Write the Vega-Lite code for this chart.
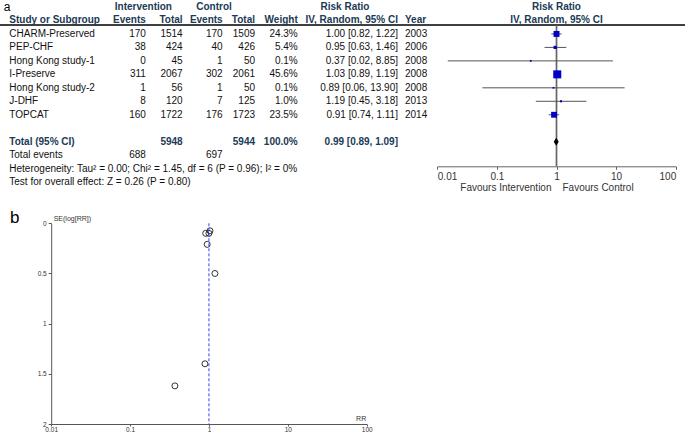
{
  "$schema": "https://vega.github.io/schema/vega-lite/v6.json",
  "width": 685,
  "height": 433,
  "padding": 0,
  "autosize": {"type": "none"},
  "background": "white",
  "config": {
    "view": {"stroke": null},
    "text": {"font": "Liberation Sans", "fontSize": 10, "baseline": "middle", "color": "#111111"},
    "axis": {"labelFont": "Liberation Sans"}
  },
  "datasets": {
    "table": [
      {"r": 0, "kind": "head", "gi": "Intervention", "gc": "Control", "gr": "Risk Ratio", "fp": "Risk Ratio"},
      {"r": 1, "kind": "head", "study": "Study or Subgroup", "ie": "Events", "it": "Total", "ce": "Events", "ct": "Total", "weight": "Weight", "ci": "IV, Random, 95% CI", "year": "Year", "fp": "IV, Random, 95% CI"},
      {"r": 2, "kind": "study", "study": "CHARM-Preserved", "ie": "170", "it": "1514", "ce": "170", "ct": "1509", "weight": "24.3%", "w": 24.3, "ci": "1.00 [0.82, 1.22]", "year": "2003", "rr": 1.0, "lo": 0.82, "hi": 1.22, "se": 0.1},
      {"r": 3, "kind": "study", "study": "PEP-CHF", "ie": "38", "it": "424", "ce": "40", "ct": "426", "weight": "5.4%", "w": 5.4, "ci": "0.95 [0.63, 1.46]", "year": "2006", "rr": 0.95, "lo": 0.63, "hi": 1.46, "se": 0.21},
      {"r": 4, "kind": "study", "study": "Hong Kong study-1", "ie": "0", "it": "45", "ce": "1", "ct": "50", "weight": "0.1%", "w": 0.1, "ci": "0.37 [0.02, 8.85]", "year": "2008", "rr": 0.37, "lo": 0.015, "hi": 8.85, "se": 1.62},
      {"r": 5, "kind": "study", "study": "I-Preserve", "ie": "311", "it": "2067", "ce": "302", "ct": "2061", "weight": "45.6%", "w": 45.6, "ci": "1.03 [0.89, 1.19]", "year": "2008", "rr": 1.03, "lo": 0.89, "hi": 1.19, "se": 0.075},
      {"r": 6, "kind": "study", "study": "Hong Kong study-2", "ie": "1", "it": "56", "ce": "1", "ct": "50", "weight": "0.1%", "w": 0.1, "ci": "0.89 [0.06, 13.90]", "year": "2008", "rr": 0.89, "lo": 0.057, "hi": 13.9, "se": 1.4},
      {"r": 7, "kind": "study", "study": "J-DHF", "ie": "8", "it": "120", "ce": "7", "ct": "125", "weight": "1.0%", "w": 1.0, "ci": "1.19 [0.45, 3.18]", "year": "2013", "rr": 1.19, "lo": 0.45, "hi": 3.18, "se": 0.5},
      {"r": 8, "kind": "study", "study": "TOPCAT", "ie": "160", "it": "1722", "ce": "176", "ct": "1723", "weight": "23.5%", "w": 23.5, "ci": "0.91 [0.74, 1.11]", "year": "2014", "rr": 0.91, "lo": 0.74, "hi": 1.11, "se": 0.1},
      {"r": 10, "kind": "total", "study": "Total (95% CI)", "it": "5948", "ct": "5944", "weight": "100.0%", "ci": "0.99 [0.89, 1.09]", "rr": 0.99, "lo": 0.89, "hi": 1.09},
      {"r": 11, "kind": "events", "study": "Total events", "ie": "688", "ce": "697"},
      {"r": 12, "kind": "note", "study": "Heterogeneity: Tau² = 0.00; Chi² = 1.45, df = 6 (P = 0.96); I² = 0%"},
      {"r": 13, "kind": "note", "study": "Test for overall effect: Z = 0.26 (P = 0.80)"}
    ],
    "panels": [{"panel": "a"}, {"panel": "b"}],
    "refs": [{"ref": "line"}],
    "favours": [{"label": "Favours Intervention", "side": "left"}, {"label": "Favours Control", "side": "right"}],
    "funnelTitles": [{"axis": "y", "label": "SE(log[RR])"}, {"axis": "x", "label": "RR"}]
  },
  "layer": [
    {"data": {"name": "panels"}, "transform": [{"filter": "datum.panel=='a'"}], "mark": {"type": "text", "align": "left", "baseline": "alphabetic", "fontSize": 12, "dx": -5.5, "dy": 4, "color": "#000000"}, "encoding": {"x": {"datum": "study", "type": "nominal", "scale": {"type": "point", "domain": ["study", "ie", "it", "ce", "ct", "weight", "ci", "year"], "range": [9.3, 405], "padding": 0}, "axis": null}, "y": {"datum": 0, "type": "quantitative", "scale": {"domain": [0, 13], "range": [7, 182.1], "nice": false, "zero": false}, "axis": null}, "text": {"field": "panel", "type": "nominal"}}},
    {"data": {"name": "panels"}, "transform": [{"filter": "datum.panel=='b'"}], "mark": {"type": "text", "align": "left", "baseline": "alphabetic", "fontSize": 17, "dx": 0.7, "color": "#000000"}, "encoding": {"x": {"datum": "study", "type": "nominal", "scale": {"type": "point", "domain": ["study", "ie", "it", "ce", "ct", "weight", "ci", "year"], "range": [9.3, 405], "padding": 0}, "axis": null}, "y": {"datum": 16.06, "type": "quantitative", "scale": {"domain": [0, 13], "range": [7, 182.1], "nice": false, "zero": false}, "axis": null}, "text": {"field": "panel", "type": "nominal"}}},
    {"data": {"name": "refs"}, "mark": {"type": "rule", "color": "#000000", "strokeWidth": 1.5}, "encoding": {"y": {"datum": 1.34, "type": "quantitative", "scale": {"domain": [0, 13], "range": [7, 182.1], "nice": false, "zero": false}, "axis": null}}},

    {"data": {"name": "table"}, "transform": [{"filter": "isValid(datum.gi)"}], "mark": {"type": "text", "align": "center", "dx": 21, "fontWeight": "bold", "color": "#203a55"}, "encoding": {"x": {"datum": "it", "type": "nominal", "scale": {"type": "point", "domain": ["study", "ie", "it", "ce", "ct", "weight", "ci", "year"], "range": [9.3, 405], "padding": 0}, "axis": null}, "y": {"field": "r", "type": "quantitative", "scale": {"domain": [0, 13], "range": [7, 182.1], "nice": false, "zero": false}, "axis": null}, "text": {"field": "gi", "type": "nominal"}}},
    {"data": {"name": "table"}, "transform": [{"filter": "isValid(datum.gc)"}], "mark": {"type": "text", "align": "center", "dx": 35.1, "fontWeight": "bold", "color": "#203a55"}, "encoding": {"x": {"datum": "ce", "type": "nominal", "scale": {"type": "point", "domain": ["study", "ie", "it", "ce", "ct", "weight", "ci", "year"], "range": [9.3, 405], "padding": 0}, "axis": null}, "y": {"field": "r", "type": "quantitative", "scale": {"domain": [0, 13], "range": [7, 182.1], "nice": false, "zero": false}, "axis": null}, "text": {"field": "gc", "type": "nominal"}}},
    {"data": {"name": "table"}, "transform": [{"filter": "isValid(datum.gr)"}], "mark": {"type": "text", "align": "center", "dx": -3.5, "fontWeight": "bold", "color": "#203a55"}, "encoding": {"x": {"datum": "ci", "type": "nominal", "scale": {"type": "point", "domain": ["study", "ie", "it", "ce", "ct", "weight", "ci", "year"], "range": [9.3, 405], "padding": 0}, "axis": null}, "y": {"field": "r", "type": "quantitative", "scale": {"domain": [0, 13], "range": [7, 182.1], "nice": false, "zero": false}, "axis": null}, "text": {"field": "gr", "type": "nominal"}}},

    {"data": {"name": "table"}, "transform": [{"filter": "datum.kind!='head' && datum.kind!='total' && isValid(datum.study)"}], "mark": {"type": "text", "align": "left"}, "encoding": {"x": {"datum": "study", "type": "nominal", "scale": {"type": "point", "domain": ["study", "ie", "it", "ce", "ct", "weight", "ci", "year"], "range": [9.3, 405], "padding": 0}, "axis": null}, "y": {"field": "r", "type": "quantitative", "scale": {"domain": [0, 13], "range": [7, 182.1], "nice": false, "zero": false}, "axis": null}, "text": {"field": "study", "type": "nominal"}}},
    {"data": {"name": "table"}, "transform": [{"filter": "datum.kind!='head' && datum.kind!='total' && isValid(datum.ie)"}], "mark": {"type": "text", "align": "right", "dx": 80}, "encoding": {"x": {"datum": "ie", "type": "nominal", "scale": {"type": "point", "domain": ["study", "ie", "it", "ce", "ct", "weight", "ci", "year"], "range": [9.3, 405], "padding": 0}, "axis": null}, "y": {"field": "r", "type": "quantitative", "scale": {"domain": [0, 13], "range": [7, 182.1], "nice": false, "zero": false}, "axis": null}, "text": {"field": "ie", "type": "nominal"}}},
    {"data": {"name": "table"}, "transform": [{"filter": "datum.kind!='head' && datum.kind!='total' && isValid(datum.it)"}], "mark": {"type": "text", "align": "right", "dx": 60.3}, "encoding": {"x": {"datum": "it", "type": "nominal", "scale": {"type": "point", "domain": ["study", "ie", "it", "ce", "ct", "weight", "ci", "year"], "range": [9.3, 405], "padding": 0}, "axis": null}, "y": {"field": "r", "type": "quantitative", "scale": {"domain": [0, 13], "range": [7, 182.1], "nice": false, "zero": false}, "axis": null}, "text": {"field": "it", "type": "nominal"}}},
    {"data": {"name": "table"}, "transform": [{"filter": "datum.kind!='head' && datum.kind!='total' && isValid(datum.ce)"}], "mark": {"type": "text", "align": "right", "dx": 43.8}, "encoding": {"x": {"datum": "ce", "type": "nominal", "scale": {"type": "point", "domain": ["study", "ie", "it", "ce", "ct", "weight", "ci", "year"], "range": [9.3, 405], "padding": 0}, "axis": null}, "y": {"field": "r", "type": "quantitative", "scale": {"domain": [0, 13], "range": [7, 182.1], "nice": false, "zero": false}, "axis": null}, "text": {"field": "ce", "type": "nominal"}}},
    {"data": {"name": "table"}, "transform": [{"filter": "datum.kind!='head' && datum.kind!='total' && isValid(datum.ct)"}], "mark": {"type": "text", "align": "right", "dx": 19.6}, "encoding": {"x": {"datum": "ct", "type": "nominal", "scale": {"type": "point", "domain": ["study", "ie", "it", "ce", "ct", "weight", "ci", "year"], "range": [9.3, 405], "padding": 0}, "axis": null}, "y": {"field": "r", "type": "quantitative", "scale": {"domain": [0, 13], "range": [7, 182.1], "nice": false, "zero": false}, "axis": null}, "text": {"field": "ct", "type": "nominal"}}},
    {"data": {"name": "table"}, "transform": [{"filter": "datum.kind!='head' && datum.kind!='total' && isValid(datum.weight)"}], "mark": {"type": "text", "align": "right", "dx": 5.8}, "encoding": {"x": {"datum": "weight", "type": "nominal", "scale": {"type": "point", "domain": ["study", "ie", "it", "ce", "ct", "weight", "ci", "year"], "range": [9.3, 405], "padding": 0}, "axis": null}, "y": {"field": "r", "type": "quantitative", "scale": {"domain": [0, 13], "range": [7, 182.1], "nice": false, "zero": false}, "axis": null}, "text": {"field": "weight", "type": "nominal"}}},
    {"data": {"name": "table"}, "transform": [{"filter": "datum.kind!='head' && datum.kind!='total' && isValid(datum.ci)"}], "mark": {"type": "text", "align": "right", "dx": 49.5}, "encoding": {"x": {"datum": "ci", "type": "nominal", "scale": {"type": "point", "domain": ["study", "ie", "it", "ce", "ct", "weight", "ci", "year"], "range": [9.3, 405], "padding": 0}, "axis": null}, "y": {"field": "r", "type": "quantitative", "scale": {"domain": [0, 13], "range": [7, 182.1], "nice": false, "zero": false}, "axis": null}, "text": {"field": "ci", "type": "nominal"}}},
    {"data": {"name": "table"}, "transform": [{"filter": "datum.kind!='head' && datum.kind!='total' && isValid(datum.year)"}], "mark": {"type": "text", "align": "left"}, "encoding": {"x": {"datum": "year", "type": "nominal", "scale": {"type": "point", "domain": ["study", "ie", "it", "ce", "ct", "weight", "ci", "year"], "range": [9.3, 405], "padding": 0}, "axis": null}, "y": {"field": "r", "type": "quantitative", "scale": {"domain": [0, 13], "range": [7, 182.1], "nice": false, "zero": false}, "axis": null}, "text": {"field": "year", "type": "nominal"}}},

    {"data": {"name": "table"}, "transform": [{"filter": "(datum.kind=='head' || datum.kind=='total') && isValid(datum.study)"}], "mark": {"type": "text", "align": "left", "fontWeight": "bold", "color": "#203a55"}, "encoding": {"x": {"datum": "study", "type": "nominal", "scale": {"type": "point", "domain": ["study", "ie", "it", "ce", "ct", "weight", "ci", "year"], "range": [9.3, 405], "padding": 0}, "axis": null}, "y": {"field": "r", "type": "quantitative", "scale": {"domain": [0, 13], "range": [7, 182.1], "nice": false, "zero": false}, "axis": null}, "text": {"field": "study", "type": "nominal"}}},
    {"data": {"name": "table"}, "transform": [{"filter": "(datum.kind=='head' || datum.kind=='total') && isValid(datum.ie)"}], "mark": {"type": "text", "align": "right", "dx": 80, "fontWeight": "bold", "color": "#203a55"}, "encoding": {"x": {"datum": "ie", "type": "nominal", "scale": {"type": "point", "domain": ["study", "ie", "it", "ce", "ct", "weight", "ci", "year"], "range": [9.3, 405], "padding": 0}, "axis": null}, "y": {"field": "r", "type": "quantitative", "scale": {"domain": [0, 13], "range": [7, 182.1], "nice": false, "zero": false}, "axis": null}, "text": {"field": "ie", "type": "nominal"}}},
    {"data": {"name": "table"}, "transform": [{"filter": "(datum.kind=='head' || datum.kind=='total') && isValid(datum.it)"}], "mark": {"type": "text", "align": "right", "dx": 60.3, "fontWeight": "bold", "color": "#203a55"}, "encoding": {"x": {"datum": "it", "type": "nominal", "scale": {"type": "point", "domain": ["study", "ie", "it", "ce", "ct", "weight", "ci", "year"], "range": [9.3, 405], "padding": 0}, "axis": null}, "y": {"field": "r", "type": "quantitative", "scale": {"domain": [0, 13], "range": [7, 182.1], "nice": false, "zero": false}, "axis": null}, "text": {"field": "it", "type": "nominal"}}},
    {"data": {"name": "table"}, "transform": [{"filter": "(datum.kind=='head' || datum.kind=='total') && isValid(datum.ce)"}], "mark": {"type": "text", "align": "right", "dx": 43.8, "fontWeight": "bold", "color": "#203a55"}, "encoding": {"x": {"datum": "ce", "type": "nominal", "scale": {"type": "point", "domain": ["study", "ie", "it", "ce", "ct", "weight", "ci", "year"], "range": [9.3, 405], "padding": 0}, "axis": null}, "y": {"field": "r", "type": "quantitative", "scale": {"domain": [0, 13], "range": [7, 182.1], "nice": false, "zero": false}, "axis": null}, "text": {"field": "ce", "type": "nominal"}}},
    {"data": {"name": "table"}, "transform": [{"filter": "(datum.kind=='head' || datum.kind=='total') && isValid(datum.ct)"}], "mark": {"type": "text", "align": "right", "dx": 19.6, "fontWeight": "bold", "color": "#203a55"}, "encoding": {"x": {"datum": "ct", "type": "nominal", "scale": {"type": "point", "domain": ["study", "ie", "it", "ce", "ct", "weight", "ci", "year"], "range": [9.3, 405], "padding": 0}, "axis": null}, "y": {"field": "r", "type": "quantitative", "scale": {"domain": [0, 13], "range": [7, 182.1], "nice": false, "zero": false}, "axis": null}, "text": {"field": "ct", "type": "nominal"}}},
    {"data": {"name": "table"}, "transform": [{"filter": "(datum.kind=='head' || datum.kind=='total') && isValid(datum.weight)"}], "mark": {"type": "text", "align": "right", "dx": 5.8, "fontWeight": "bold", "color": "#203a55"}, "encoding": {"x": {"datum": "weight", "type": "nominal", "scale": {"type": "point", "domain": ["study", "ie", "it", "ce", "ct", "weight", "ci", "year"], "range": [9.3, 405], "padding": 0}, "axis": null}, "y": {"field": "r", "type": "quantitative", "scale": {"domain": [0, 13], "range": [7, 182.1], "nice": false, "zero": false}, "axis": null}, "text": {"field": "weight", "type": "nominal"}}},
    {"data": {"name": "table"}, "transform": [{"filter": "(datum.kind=='head' || datum.kind=='total') && isValid(datum.ci)"}], "mark": {"type": "text", "align": "right", "dx": 49.5, "fontWeight": "bold", "color": "#203a55"}, "encoding": {"x": {"datum": "ci", "type": "nominal", "scale": {"type": "point", "domain": ["study", "ie", "it", "ce", "ct", "weight", "ci", "year"], "range": [9.3, 405], "padding": 0}, "axis": null}, "y": {"field": "r", "type": "quantitative", "scale": {"domain": [0, 13], "range": [7, 182.1], "nice": false, "zero": false}, "axis": null}, "text": {"field": "ci", "type": "nominal"}}},
    {"data": {"name": "table"}, "transform": [{"filter": "(datum.kind=='head' || datum.kind=='total') && isValid(datum.year)"}], "mark": {"type": "text", "align": "left", "fontWeight": "bold", "color": "#203a55"}, "encoding": {"x": {"datum": "year", "type": "nominal", "scale": {"type": "point", "domain": ["study", "ie", "it", "ce", "ct", "weight", "ci", "year"], "range": [9.3, 405], "padding": 0}, "axis": null}, "y": {"field": "r", "type": "quantitative", "scale": {"domain": [0, 13], "range": [7, 182.1], "nice": false, "zero": false}, "axis": null}, "text": {"field": "year", "type": "nominal"}}},

    {"data": {"name": "refs"}, "mark": {"type": "rule", "color": "#666666", "strokeWidth": 1.7}, "encoding": {"x": {"datum": 1, "type": "quantitative", "scale": {"type": "log", "domain": [0.01, 100], "range": [437.3, 675.7], "nice": false}, "axis": null}, "y": {"datum": 1.34, "type": "quantitative", "scale": {"domain": [0, 13], "range": [7, 182.1], "nice": false, "zero": false}, "axis": null}, "y2": {"datum": 11.83}}},
    {"data": {"name": "table"}, "transform": [{"filter": "datum.kind=='study'"}], "mark": {"type": "rule", "color": "#555555", "strokeWidth": 1}, "encoding": {"x": {"field": "lo", "type": "quantitative", "scale": {"type": "log", "domain": [0.01, 100], "range": [437.3, 675.7], "nice": false}, "axis": {"orient": "bottom", "offset": -266.7, "values": [0.01, 0.1, 1, 10, 100], "format": "~g", "title": null, "grid": false, "domainColor": "#666666", "domainWidth": 1, "tickColor": "#666666", "tickSize": 3, "labelFontSize": 10, "labelColor": "#333333", "labelPadding": 2, "labelFlush": true, "labelOverlap": false}}, "x2": {"field": "hi"}, "y": {"field": "r", "type": "quantitative", "scale": {"domain": [0, 13], "range": [7, 182.1], "nice": false, "zero": false}, "axis": null}}},
    {"data": {"name": "table"}, "transform": [{"filter": "datum.kind=='study'"}], "mark": {"type": "point", "shape": "square", "filled": true, "color": "#0000c8", "opacity": 1}, "encoding": {"x": {"field": "rr", "type": "quantitative", "scale": {"type": "log", "domain": [0.01, 100], "range": [437.3, 675.7], "nice": false}, "axis": null}, "y": {"field": "r", "type": "quantitative", "scale": {"domain": [0, 13], "range": [7, 182.1], "nice": false, "zero": false}, "axis": null}, "size": {"field": "w", "type": "quantitative", "scale": {"domain": [0, 45.6], "range": [3, 64]}, "legend": null}}},
    {"data": {"name": "table"}, "transform": [{"filter": "datum.kind=='total'"}], "mark": {"type": "point", "shape": "M0,-1L0.62,0L0,1L-0.62,0Z", "filled": true, "color": "#000000", "opacity": 1, "size": 64}, "encoding": {"x": {"field": "rr", "type": "quantitative", "scale": {"type": "log", "domain": [0.01, 100], "range": [437.3, 675.7], "nice": false}, "axis": null}, "y": {"field": "r", "type": "quantitative", "scale": {"domain": [0, 13], "range": [7, 182.1], "nice": false, "zero": false}, "axis": null}}},
    {"data": {"name": "table"}, "transform": [{"filter": "isValid(datum.fp)"}], "mark": {"type": "text", "align": "center", "fontWeight": "bold", "color": "#203a55"}, "encoding": {"x": {"datum": 1, "type": "quantitative", "scale": {"type": "log", "domain": [0.01, 100], "range": [437.3, 675.7], "nice": false}, "axis": null}, "y": {"field": "r", "type": "quantitative", "scale": {"domain": [0, 13], "range": [7, 182.1], "nice": false, "zero": false}, "axis": null}, "text": {"field": "fp", "type": "nominal"}}},
    {"data": {"name": "favours"}, "transform": [{"filter": "datum.side=='left'"}], "mark": {"type": "text", "align": "right", "dx": -5, "color": "#333333"}, "encoding": {"x": {"datum": 1, "type": "quantitative", "scale": {"type": "log", "domain": [0.01, 100], "range": [437.3, 675.7], "nice": false}, "axis": null}, "y": {"datum": 13.47, "type": "quantitative", "scale": {"domain": [0, 13], "range": [7, 182.1], "nice": false, "zero": false}, "axis": null}, "text": {"field": "label", "type": "nominal"}}},
    {"data": {"name": "favours"}, "transform": [{"filter": "datum.side=='right'"}], "mark": {"type": "text", "align": "left", "dx": 6, "color": "#333333"}, "encoding": {"x": {"datum": 1, "type": "quantitative", "scale": {"type": "log", "domain": [0.01, 100], "range": [437.3, 675.7], "nice": false}, "axis": null}, "y": {"datum": 13.47, "type": "quantitative", "scale": {"domain": [0, 13], "range": [7, 182.1], "nice": false, "zero": false}, "axis": null}, "text": {"field": "label", "type": "nominal"}}},

    {"data": {"name": "table"}, "transform": [{"filter": "datum.kind=='study'"}], "mark": {"type": "point", "shape": "circle", "filled": false, "color": "#333333", "strokeWidth": 1, "size": 36, "opacity": 1}, "encoding": {"x": {"field": "rr", "type": "quantitative", "scale": {"type": "log", "domain": [0.01, 100], "range": [51.2, 366.7], "nice": false}, "axis": {"orient": "bottom", "offset": -9, "values": [0.01, 0.1, 1, 10, 100], "format": "~g", "title": null, "grid": false, "domainColor": "#555555", "tickColor": "#555555", "tickSize": 2, "labelFontSize": 6.5, "labelColor": "#333333", "labelPadding": 0.5, "labelFlush": false, "labelOverlap": false}}, "y": {"field": "se", "type": "quantitative", "scale": {"domain": [0, 2], "range": [223.3, 424], "nice": false, "zero": false}, "axis": {"orient": "left", "offset": -51.2, "values": [0, 0.5, 1, 1.5, 2], "format": "~g", "title": null, "grid": false, "domainColor": "#555555", "tickColor": "#555555", "tickSize": 3, "labelFontSize": 6.5, "labelColor": "#333333", "labelPadding": 2, "labelFlush": false, "labelOverlap": false}}}},
    {"data": {"name": "refs"}, "mark": {"type": "rule", "color": "#3a3aff", "strokeDash": [3, 2], "strokeWidth": 1}, "encoding": {"x": {"datum": 1, "type": "quantitative", "scale": {"type": "log", "domain": [0.01, 100], "range": [51.2, 366.7], "nice": false}, "axis": null}, "y": {"datum": 0, "type": "quantitative", "scale": {"domain": [0, 2], "range": [223.3, 424], "nice": false, "zero": false}, "axis": null}, "y2": {"datum": 2}}},
    {"data": {"name": "funnelTitles"}, "transform": [{"filter": "datum.axis=='y'"}], "mark": {"type": "text", "align": "left", "baseline": "bottom", "fontSize": 7, "dx": 2.5, "dy": -1.5, "color": "#333333"}, "encoding": {"x": {"datum": 0.01, "type": "quantitative", "scale": {"type": "log", "domain": [0.01, 100], "range": [51.2, 366.7], "nice": false}, "axis": null}, "y": {"datum": 0, "type": "quantitative", "scale": {"domain": [0, 2], "range": [223.3, 424], "nice": false, "zero": false}, "axis": null}, "text": {"field": "label", "type": "nominal"}}},
    {"data": {"name": "funnelTitles"}, "transform": [{"filter": "datum.axis=='x'"}], "mark": {"type": "text", "align": "right", "baseline": "bottom", "fontSize": 7, "dx": -0.5, "dy": -2.5, "color": "#333333"}, "encoding": {"x": {"datum": 100, "type": "quantitative", "scale": {"type": "log", "domain": [0.01, 100], "range": [51.2, 366.7], "nice": false}, "axis": null}, "y": {"datum": 2, "type": "quantitative", "scale": {"domain": [0, 2], "range": [223.3, 424], "nice": false, "zero": false}, "axis": null}, "text": {"field": "label", "type": "nominal"}}}
  ],
  "resolve": {"scale": {"x": "independent", "y": "independent", "size": "independent"}, "axis": {"x": "independent", "y": "independent"}}
}
